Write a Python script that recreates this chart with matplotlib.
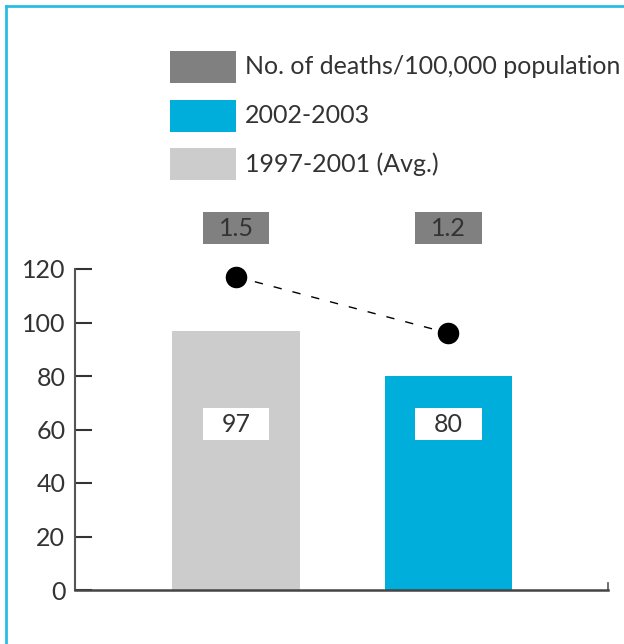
import matplotlib.pyplot as plt
from matplotlib.patches import Rectangle

periods = ['1997-2001 (Avg.)', '2002-2003']
deaths = [97, 80]
rates = [1.5, 1.2]
bar_colors = ['#cccccc', '#00aedb']
legend_labels = ['No. of deaths/100,000 population', '2002-2003', '1997-2001 (Avg.)']
legend_colors = ['#808080', '#00aedb', '#cccccc']
yticks = [0, 20, 40, 60, 80, 100, 120]

plt.rcParams['font.family'] = ['Lato', 'DejaVu Sans']
txt = '#333333'

fig = plt.figure(figsize=(6.24, 6.44), dpi=100)

# light blue frame along top and left
fig.add_artist(plt.Line2D([6/624, 6/624], [0, 1 - 6/644], color='#29bde6', lw=2,
                          transform=fig.transFigure))
fig.add_artist(plt.Line2D([6/624, 1], [1 - 6/644, 1 - 6/644], color='#29bde6', lw=2,
                          transform=fig.transFigure))

ax = fig.add_axes([75/624, 54/644, 533/624, 321/644])
x = [0, 1]
ax.bar(x, deaths, width=0.602, color=bar_colors, zorder=2)
ax.set_xlim(-0.758, 1.751)
ax.set_ylim(0, 120)
ax.set_yticks(yticks)
ax.set_xticks([])
ax.tick_params(axis='y', direction='in', length=12, width=1.5, color='#333333',
               labelsize=18, labelcolor=txt, pad=7)
ax.spines['top'].set_visible(False)
ax.spines['left'].set_color('#555555')
ax.spines['left'].set_linewidth(1.5)
ax.spines['bottom'].set_color('#444444')
ax.spines['bottom'].set_linewidth(1.8)
ax.spines['right'].set_bounds(0, 2.8)
ax.spines['right'].set_color('#555555')
ax.spines['right'].set_linewidth(1.2)

# value boxes inside the bars
bw, bh = 0.315, 12
for xi, v in zip(x, deaths):
    ax.add_patch(Rectangle((xi - bw/2, 62 - bh/2), bw, bh, facecolor='white',
                           edgecolor='none', zorder=3))
    ax.text(xi, 62, str(v), ha='center', va='center', fontsize=18, color=txt,
            zorder=4)

# rate boxes above the plot
for xi, r in zip(x, rates):
    ax.add_patch(Rectangle((xi - bw/2, 135.3 - bh/2), bw, bh, facecolor='#808080',
                           edgecolor='none', clip_on=False, zorder=3))
    ax.text(xi, 135.3, f'{r}', ha='center', va='center', fontsize=18, color=txt,
            zorder=4, clip_on=False)

# rate trend on its own hidden scale
ax2 = ax.twinx()
ax2.plot(x, rates, color='black', lw=1, linestyle=(0, (6, 8)), marker='o',
         markersize=14.5, clip_on=False, zorder=5)
ax2.set_ylim(-0.165, 1.541)
ax2.set_axis_off()

# legend
for i, (lab, col) in enumerate(zip(legend_labels, legend_colors)):
    yc = 644 - (67 + 48.5 * i)
    fig.add_artist(Rectangle((170/624, (yc - 16)/644), 66/624, 32/644,
                             facecolor=col, edgecolor='none',
                             transform=fig.transFigure))
    fig.text(245/624, yc/644, lab, ha='left', va='center', fontsize=18,
             color=txt)

fig.savefig('out.png', dpi=100)
